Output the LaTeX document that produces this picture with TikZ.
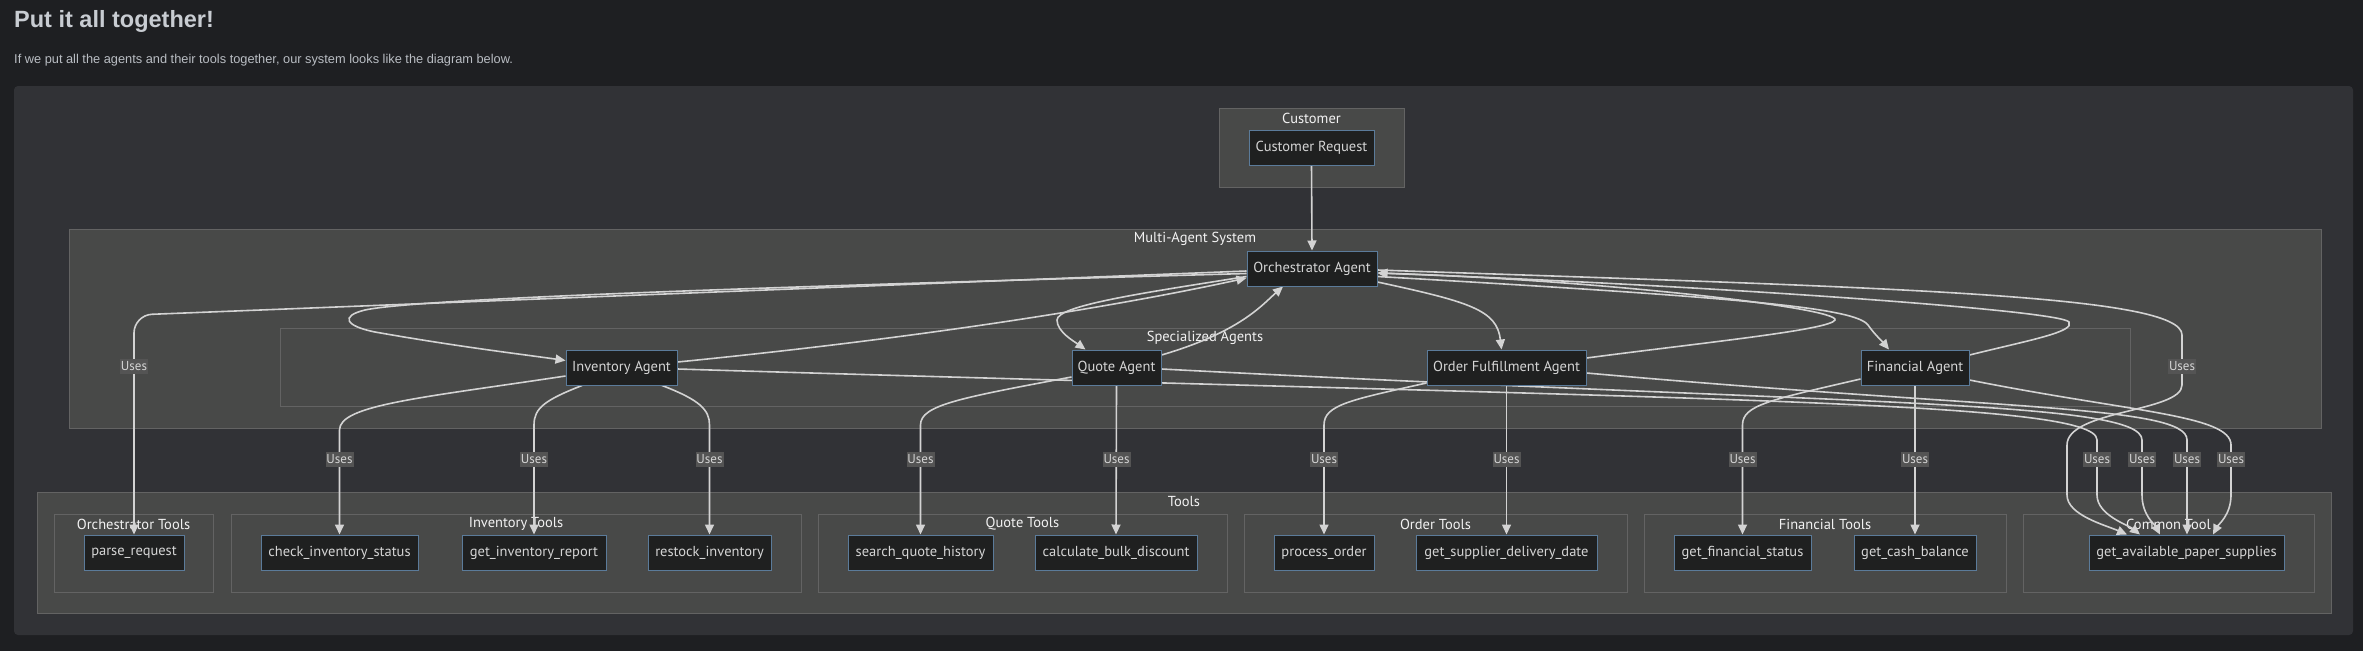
\documentclass[tikz,border=0pt]{standalone}
\usepackage{fontspec}
\setmainfont{PT Sans}
\newfontfamily\titlefont{Liberation Sans}
\usetikzlibrary{arrows.meta,calc}
\definecolor{pagebg}{HTML}{1E1F22}
\definecolor{panelbg}{HTML}{313236}
\definecolor{clusterbg}{HTML}{484948}
\definecolor{clusterln}{HTML}{636363}
\definecolor{nodebg}{HTML}{1F2020}
\definecolor{nodeln}{HTML}{5B7B9A}
\definecolor{nodetxt}{HTML}{D5D5D5}
\definecolor{clustertxt}{HTML}{F2F2F2}
\definecolor{edgec}{HTML}{D3D3D3}
\definecolor{labelbg}{HTML}{545454}
\definecolor{titletxt}{HTML}{C8CCD2}
\definecolor{subtxt}{HTML}{B9BDC3}
\pgfdeclarelayer{bg}
\pgfdeclarelayer{edges}
\pgfsetlayers{bg,edges,main}
\tikzset{
  nodefont/.style={font=\fontsize{14.5pt}{17pt}\selectfont},
  box/.style={draw=nodeln, fill=nodebg, line width=1pt, text=nodetxt, minimum height=35pt, inner sep=0pt, nodefont},
  clus/.style={draw=clusterln, fill=clusterbg, line width=1pt},
  clabel/.style={text=clustertxt, inner sep=0pt, font=\fontsize{14.5pt}{17pt}\selectfont},
  uses/.style={fill=labelbg, text=nodetxt, inner sep=0pt, minimum width=28pt, minimum height=15pt, font=\fontsize{13pt}{15pt}\selectfont},
  edge/.style={draw=edgec, line width=1.6pt, -{Triangle[length=10pt,width=9pt]}},
}
\begin{document}
\begin{tikzpicture}[x=1pt,y=-1pt]
\begin{pgfonlayer}{bg}
\fill[pagebg] (0,0) rectangle (2363,651);
\fill[panelbg, rounded corners=4pt] (14,86) rectangle (2353,635);
% clusters
\draw[clus] (1219,108) rectangle (1404,187);
\draw[clus] (69,229) rectangle (2321,428);
\draw[clus] (280,328) rectangle (2130,406);
\draw[clus] (37,492) rectangle (2331,613);
\draw[clus] (54,514) rectangle (213,592);
\draw[clus] (231,514) rectangle (801,592);
\draw[clus] (818,514) rectangle (1227,592);
\draw[clus] (1244,514) rectangle (1627,592);
\draw[clus] (1644,514) rectangle (2006,592);
\draw[clus] (2023,514) rectangle (2314,592);
\node[clabel] (lcust) at (1311.5,118) {Customer};
\node[clabel] (lmas) at (1195,239) {Multi-Agent System};
\node[clabel] (lspec) at (1205,338) {Specialized Agents};
\node[clabel] (ltools) at (1184,502) {Tools};
\node[clabel] (lot) at (133.5,524) {Orchestrator Tools};
\node[clabel] (lit) at (516,524) {Inventory Tools};
\node[clabel] (lqt) at (1022.5,524) {Quote Tools};
\node[clabel] (lodt) at (1435.5,524) {Order Tools};
\node[clabel] (lft) at (1825,524) {Financial Tools};
\node[clabel] (lct) at (2168.5,524) {Common Tool};
\end{pgfonlayer}
\useasboundingbox (0,0) rectangle (2363,651);
% title
\node[anchor=base west, inner sep=0pt, text=titletxt, font=\titlefont\bfseries\fontsize{23.5pt}{28pt}\selectfont] (title) at (14,27) {Put it all together!};
\node[anchor=base west, inner sep=0pt, text=subtxt, font=\titlefont\fontsize{12.8pt}{15pt}\selectfont] (sub) at (14,63) {If we put all the agents and their tools together, our system looks like the diagram below.};
% nodes
\node[box, minimum width=125pt] (CR) at (1311.5,147.5) {Customer Request};
\node[box, minimum width=130pt] (OA) at (1312,268.5) {Orchestrator Agent};
\node[box, minimum width=111pt] (IA) at (621.5,367.5) {Inventory Agent};
\node[box, minimum width=89pt] (QA) at (1116.5,367.5) {Quote Agent};
\node[box, minimum width=159pt] (OF) at (1506.5,367.5) {Order Fulfillment Agent};
\node[box, minimum width=108pt] (FA) at (1915,367.5) {Financial Agent};
\node[box, minimum width=100pt] (pr) at (134,552.5) {parse\_request};
\node[box, minimum width=157pt] (cis) at (339.5,552.5) {check\_inventory\_status};
\node[box, minimum width=144pt] (gir) at (534,552.5) {get\_inventory\_report};
\node[box, minimum width=123pt] (ri) at (709.5,552.5) {restock\_inventory};
\node[box, minimum width=145pt] (sqh) at (920.5,552.5) {search\_quote\_history};
\node[box, minimum width=162pt] (cbd) at (1116,552.5) {calculate\_bulk\_discount};
\node[box, minimum width=100pt] (po) at (1324,552.5) {process\_order};
\node[box, minimum width=181pt] (gsdd) at (1506.5,552.5) {get\_supplier\_delivery\_date};
\node[box, minimum width=137pt] (gfs) at (1742.5,552.5) {get\_financial\_status};
\node[box, minimum width=122pt] (gcb) at (1915,552.5) {get\_cash\_balance};
\node[box, minimum width=195pt] (gaps) at (2186.5,552.5) {get\_available\_paper\_supplies};
% edge labels
\node[uses] (u1) at (134,366) {Uses};
\node[uses] (u2) at (2182,366) {Uses};
\node[uses] (u3) at (339.5,459) {Uses};
\node[uses] (u4) at (534,459) {Uses};
\node[uses] (u5) at (709.5,459) {Uses};
\node[uses] (u6) at (920.5,459) {Uses};
\node[uses] (u7) at (1116.5,459) {Uses};
\node[uses] (u8) at (1324,459) {Uses};
\node[uses] (u9) at (1506.5,459) {Uses};
\node[uses] (u10) at (1742.5,459) {Uses};
\node[uses] (u11) at (1915,459) {Uses};
\node[uses] (u12) at (2097,459) {Uses};
\node[uses] (u13) at (2142,459) {Uses};
\node[uses] (u14) at (2187,459) {Uses};
\node[uses] (u15) at (2231,459) {Uses};
\begin{pgfonlayer}{edges}
\draw[edge] (CR.south) -- (OA.north);
% orchestrator left side
\draw[edge, rounded corners=18pt] ($(OA.west)+(0,2.5)$) -- (134,315) -- (pr.north);
\draw[edge] ($(OA.west)+(0,5)$) .. controls (800,286) and (420,298) .. (365,310)
  .. controls (340,316) and (345,326) .. (375,332)
  .. controls (460,347) and (520,354) .. ($(IA.west)+(0,-7)$);
\draw[edge] ($(IA.east)+(0,-5.5)$) .. controls (900,340) and (1100,310) .. ($(OA.west)+(0,9.5)$);
\draw[edge] ($(OA.west)+(0,8)$) .. controls (1150,292) and (1057,305) .. (1057,320)
  .. controls (1057,332) and (1075,342) .. ($(QA.north)+(-31,0)$);
\draw[edge] ($(QA.east)+(0,-12.5)$) .. controls (1240,332) and (1262,305) .. ($(OA.south)+(-29,0)$);
% orchestrator right side
\draw[edge] ($(OA.east)+(0,13.5)$) .. controls (1470,302) and (1497,310) .. ($(OF.north)+(-5,0)$);
\draw[edge] ($(OF.east)+(0,-9.5)$) .. controls (1700,343) and (1830,330) .. (1835,320)
  .. controls (1840,308) and (1600,280) .. ($(OA.east)+(0,4.5)$);
\draw[edge] ($(OA.east)+(0,8)$) .. controls (1750,298) and (1855,308) .. (1868,325)
  .. controls (1875,335) and (1882,341) .. ($(FA.north)+(-26,0)$);
\draw[edge] ($(FA.east)+(0,-12.5)$) .. controls (2030,340) and (2075,332) .. (2069,322)
  .. controls (2060,310) and (1700,285) .. ($(OA.east)+(0,4.5)$);
\draw[edge] ($(OA.east)+(0,1.5)$) .. controls (1900,288) and (2182,295) .. (2182,335)
  -- (2182,385) .. controls (2182,412) and (2067,410) .. (2067,445)
  -- (2067,495) .. controls (2067,515) and (2105,525) .. ($(gaps.north)+(-59.5,0)$);
% agents to their tools
\draw[edge] ($(IA.west)+(0,8.5)$) .. controls (420,398) and (339.5,405) .. (339.5,430) -- (cis.north);
\draw[edge] ($(IA.south)+(-39.5,0)$) .. controls (545,400) and (534,408) .. (534,425) -- (gir.north);
\draw[edge] ($(IA.south)+(40.5,0)$) .. controls (700,400) and (709.5,410) .. (709.5,425) -- (ri.north);
\draw[edge] ($(QA.west)+(0,9.5)$) .. controls (960,398) and (920.5,405) .. (920.5,425) -- (sqh.north);
\draw[edge] (QA.south) -- (cbd.north);
\draw[edge] ($(OF.west)+(0,15.5)$) .. controls (1350,400) and (1324,405) .. (1324,425) -- (po.north);
\draw[edge] (OF.south) -- (gsdd.north);
\draw[edge] ($(FA.west)+(0,11.5)$) .. controls (1770,400) and (1742.5,405) .. (1742.5,425) -- (gfs.north);
\draw[edge] (FA.south) -- (gcb.north);
% agents to common tool
\draw[edge] ($(IA.east)+(0,1.5)$) .. controls (1700,400) and (2097,400) .. (2097,440)
  -- (2097,495) .. controls (2097,515) and (2128,525) .. ($(gaps.north)+(-46.5,0)$);
\draw[edge] ($(QA.east)+(0,1.5)$) .. controls (1850,405) and (2142,400) .. (2142,440)
  -- (2142,495) .. controls (2142,515) and (2155,525) .. ($(gaps.north)+(-26.5,0)$);
\draw[edge] ($(OF.east)+(0,5.5)$) .. controls (2000,410) and (2187,405) .. (2187,440)
  -- ($(gaps.north)+(0.5,0)$);
\draw[edge] ($(FA.east)+(0,12.5)$) .. controls (2130,412) and (2231,415) .. (2231,445)
  -- (2231,495) .. controls (2231,515) and (2218,525) .. ($(gaps.north)+(26.5,0)$);
\end{pgfonlayer}
\end{tikzpicture}
\end{document}
